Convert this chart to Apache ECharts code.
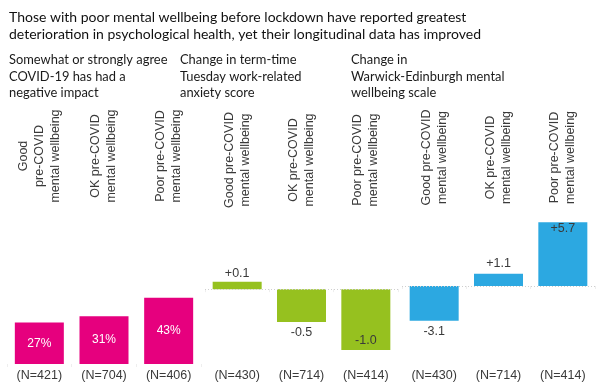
<!DOCTYPE html>
<html>
<head>
<meta charset="utf-8">
<script src="https://cdn.jsdelivr.net/npm/echarts@6/dist/echarts.min.js"></script>
<style>
html,body{margin:0;padding:0;background:#fff;}
#chart{width:602px;height:389px;}
</style>
</head>
<body>
<div id="chart"></div>
<script>
// ---- Data ----
const titleText = 'Those with poor mental wellbeing before lockdown have reported greatest\ndeterioration in psychological health, yet their longitudinal data has improved';
const panelTitles = [
  'Somewhat or strongly agree\nCOVID-19 has had a\nnegative impact',
  'Change in term-time\nTuesday work-related\nanxiety score',
  'Change in\nWarwick-Edinburgh mental\nwellbeing scale'
];
const categoriesPanel1 = ['Good\npre-COVID\nmental wellbeing', 'OK pre-COVID\nmental wellbeing', 'Poor pre-COVID\nmental wellbeing'];
const categoriesPanel23 = ['Good pre-COVID\nmental wellbeing', 'OK pre-COVID\nmental wellbeing', 'Poor pre-COVID\nmental wellbeing'];
const sampleSizes1 = ['(N=421)', '(N=704)', '(N=406)'];
const sampleSizes2 = ['(N=430)', '(N=714)', '(N=414)'];
const sampleSizes3 = ['(N=430)', '(N=714)', '(N=414)'];
const negativeImpactPct = [27, 31, 43];
const anxietyChange = [0.12, -0.54, -1.0];
const wellbeingChange = [-3.1, 1.1, 5.7];

// ---- Chart ----
const chart = echarts.init(document.getElementById('chart'), null, {renderer: 'canvas'});
const FONT_HEAD = 'Lato';
const FONT_LAB = 'Liberation Sans';
const TEXT_COL = '#3a3a3a';

const grids = [
  {left: 7, width: 194, top: 210, height: 154},
  {left: 205, width: 193, top: 210, height: 154},
  {left: 402, width: 193, top: 210, height: 154}
];
const topMargins = [54, 50, 52.5];
const catSets = [categoriesPanel1, categoriesPanel23, categoriesPanel23];
const nSets = [sampleSizes1, sampleSizes2, sampleSizes3];

const xAxes = [];
grids.forEach((g, i) => {
  xAxes.push({
    gridIndex: i, type: 'category', position: 'bottom', data: nSets[i],
    axisLine: {show: false},
    axisTick: {show: true, alignWithLabel: false, length: 3, lineStyle: {color: '#eeeeee'}},
    axisLabel: {interval: 0, margin: 5, fontFamily: FONT_LAB, fontSize: 12.5, color: TEXT_COL, lineHeight: 13}
  });
  xAxes.push({
    gridIndex: i, type: 'category', position: 'top', data: catSets[i],
    axisLine: {show: false}, axisTick: {show: false},
    axisLabel: {interval: 0, rotate: -90, align: 'center', verticalAlign: 'middle', margin: topMargins[i],
      fontFamily: FONT_LAB, fontSize: 12.5, lineHeight: 16, color: TEXT_COL}
  });
});

const yAxes = [
  {gridIndex: 0, type: 'value', min: 0, max: 100, show: false},
  {gridIndex: 1, type: 'value', min: -1.23, max: 1.3, show: false},
  {gridIndex: 2, type: 'value', min: -6.96, max: 6.79, show: false}
];

const signFmt = p => (p.value > 0 ? '+' : '') + Number(p.value).toFixed(1);
const zeroLine = {
  silent: true, symbol: 'none', label: {show: false},
  lineStyle: {type: [1, 2], color: '#cfcfcf', width: 1},
  data: [{yAxis: 0}]
};
const pos2 = [['top', 2], ['bottom', 4], ['insideBottom', 3]];
const pos3 = [['bottom', 4], ['top', 4], ['insideTop', 0]];

const series = [
  {
    type: 'bar', xAxisIndex: 0, yAxisIndex: 0, barWidth: 49,
    itemStyle: {color: '#E6007E'},
    label: {show: true, position: 'inside', formatter: '{c}%', color: '#ffffff', fontFamily: FONT_LAB, fontSize: 12},
    data: negativeImpactPct
  },
  {
    type: 'bar', xAxisIndex: 2, yAxisIndex: 1, barWidth: 49,
    itemStyle: {color: '#96C11F'},
    label: {show: true, formatter: signFmt, color: TEXT_COL, fontFamily: FONT_LAB, fontSize: 12.5},
    markLine: zeroLine,
    data: anxietyChange.map((v, i) => ({value: v, label: {position: pos2[i][0], distance: pos2[i][1]}}))
  },
  {
    type: 'bar', xAxisIndex: 4, yAxisIndex: 2, barWidth: 49,
    itemStyle: {color: '#2CA8E1'},
    label: {show: true, formatter: signFmt, color: TEXT_COL, fontFamily: FONT_LAB, fontSize: 12.5},
    markLine: zeroLine,
    data: wellbeingChange.map((v, i) => ({value: v, label: {position: pos3[i][0], distance: pos3[i][1]}}))
  }
];

const headStyle = {fontFamily: FONT_HEAD, fontSize: 12.9, fontWeight: 'normal', color: '#1a1a1a', lineHeight: 16.3};
const titles = [
  {text: titleText, left: 9, top: 8.5, textStyle: Object.assign({}, headStyle, {fontSize: 14, lineHeight: 17, color: '#111111'})},
  {text: panelTitles[0], left: 9, top: 52, textStyle: headStyle},
  {text: panelTitles[1], left: 180, top: 52, textStyle: headStyle},
  {text: panelTitles[2], left: 351, top: 52, textStyle: headStyle}
];
titles.forEach(t => { t.padding = 0; });

chart.setOption({
  animation: false,
  backgroundColor: '#ffffff',
  title: titles,
  grid: grids,
  xAxis: xAxes,
  yAxis: yAxes,
  series: series
});
</script>
</body>
</html>
